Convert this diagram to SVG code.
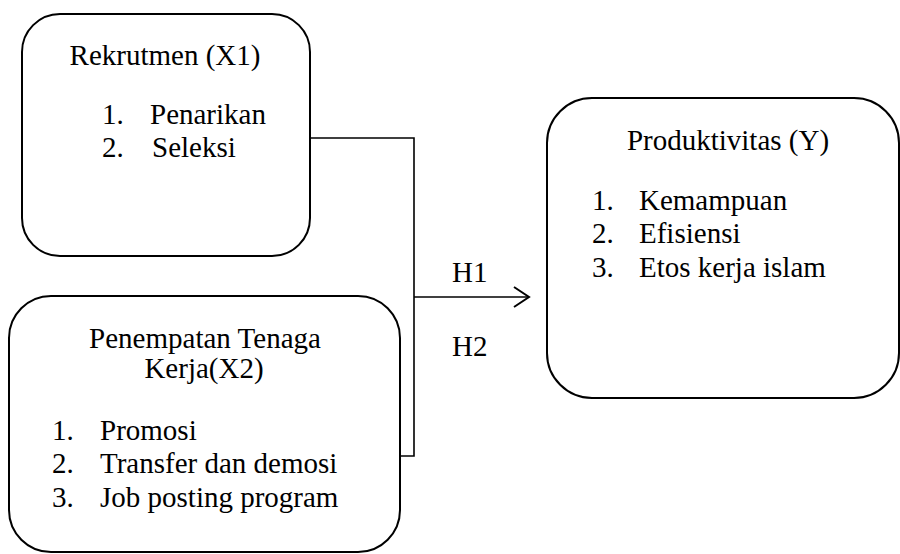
<svg xmlns="http://www.w3.org/2000/svg" width="900" height="554" viewBox="0 0 900 554">
  <style>
    .box { fill: #ffffff; stroke: #000000; stroke-width: 2; }
    text { font-family: 'Liberation Serif', 'Times New Roman', Times, serif; font-size: 29px; fill: #000000; }
    .c { text-anchor: middle; }
    .line { fill: none; stroke: #000000; stroke-width: 1.6; }
  </style>
  <defs>
    <marker id="arr" markerWidth="20" markerHeight="24" refX="17" refY="11" orient="auto" markerUnits="userSpaceOnUse">
      <path d="M2,1 L17,11 L2,21" fill="none" stroke="#000" stroke-width="2"/>
    </marker>
  </defs>
  <rect width="900" height="554" fill="#ffffff"/>

  <g id="connectors">
    <polyline class="line" points="310,138 414,138 414,456 400,456"/>
    <line class="line" x1="414" y1="297" x2="529" y2="297" marker-end="url(#arr)"/>
    <text x="452" y="282">H1</text>
    <text x="452" y="356">H2</text>
  </g>

  <g id="rekrutmen">
    <rect class="box" x="22" y="14" width="288" height="242" rx="38" ry="38"/>
    <text class="c" x="165" y="65">Rekrutmen (X1)</text>
    <text x="102" y="124">1.</text>
    <text x="150" y="124">Penarikan</text>
    <text x="102" y="157">2.</text>
    <text x="152" y="157">Seleksi</text>
  </g>

  <g id="penempatan">
    <rect class="box" x="9" y="296" width="391" height="256" rx="42" ry="42"/>
    <text class="c" x="205" y="348">Penempatan Tenaga</text>
    <text class="c" x="204" y="378">Kerja(X2)</text>
    <text x="52" y="440">1.</text>
    <text x="100" y="440">Promosi</text>
    <text x="52" y="473">2.</text>
    <text x="100" y="473">Transfer dan demosi</text>
    <text x="52" y="507">3.</text>
    <text x="100" y="507">Job posting program</text>
  </g>

  <g id="produktivitas">
    <rect class="box" x="547" y="98" width="352" height="300" rx="45" ry="45"/>
    <text class="c" x="728" y="150">Produktivitas (Y)</text>
    <text x="592" y="210">1.</text>
    <text x="639" y="210">Kemampuan</text>
    <text x="592" y="243">2.</text>
    <text x="639" y="243">Efisiensi</text>
    <text x="592" y="277">3.</text>
    <text x="639" y="277">Etos kerja islam</text>
  </g>
</svg>
